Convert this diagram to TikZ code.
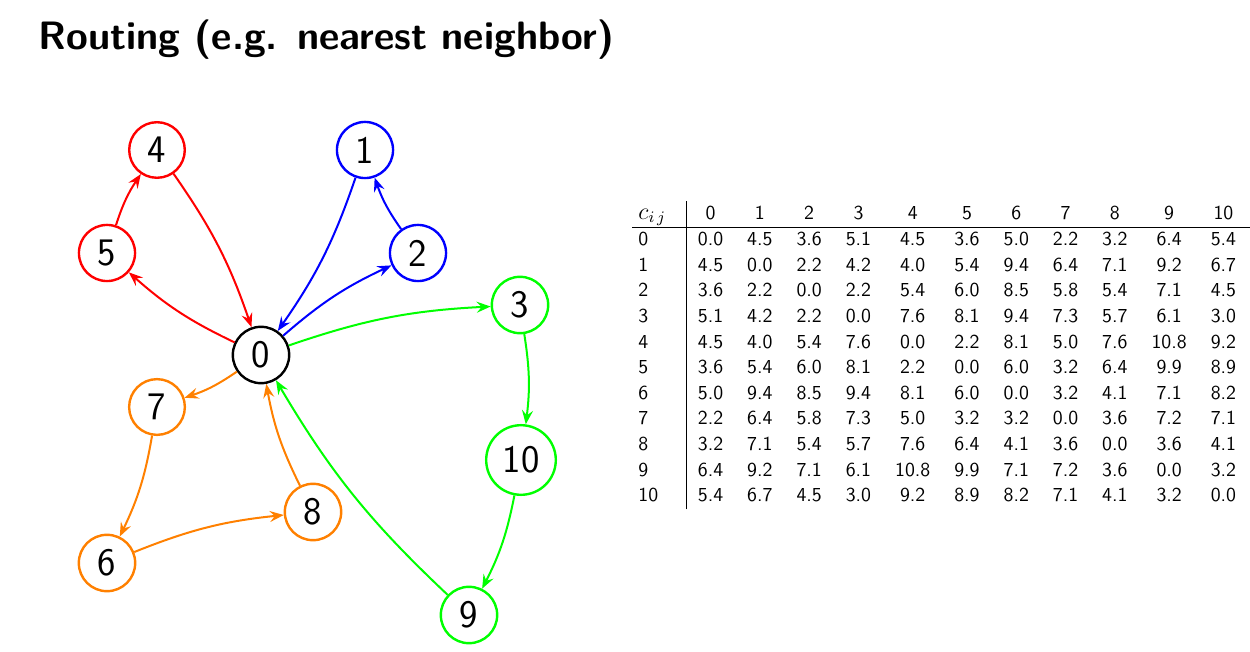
\documentclass[tikz,border=0pt]{standalone}
\usepackage{amsmath}
\usetikzlibrary{arrows.meta}
\renewcommand{\familydefault}{\sfdefault}
\definecolor{tourorange}{RGB}{255,128,0}
\definecolor{tourgreen}{RGB}{0,255,0}

\begin{document}
\begin{tikzpicture}[x=0.5pt,y=-0.5pt,
    city/.style={circle,draw=black,line width=1.2pt,inner sep=4.3pt,font=\fontsize{19.5}{22}\selectfont},
    route/.style={-{Stealth[length=7pt,width=5.5pt,inset=2.5pt]},line width=1pt,bend left=8}]
        \useasboundingbox (0,0) rectangle (1250,652);

        % Title
        \node[anchor=base west,inner sep=0pt,font=\fontsize{19.8}{22}\selectfont\bfseries] (title) at (38,50) {Routing (e.g. nearest neighbor)};

        % Depot
        \node[city] (c0) at (261,355) {0};

        % Cities, coloured by tour
        \node[city,draw=red] (c4) at (157,150) {4};
        \node[city,draw=red] (c5) at (107,253) {5};
        \node[city,draw=blue] (c1) at (365,150) {1};
        \node[city,draw=blue] (c2) at (418,253) {2};
        \node[city,draw=tourgreen] (c3) at (520,305) {3};
        \node[city,draw=tourgreen] (c10) at (521,460) {10};
        \node[city,draw=tourgreen] (c9) at (469,615) {9};
        \node[city,draw=tourorange] (c7) at (157,407) {7};
        \node[city,draw=tourorange] (c6) at (107,563) {6};
        \node[city,draw=tourorange] (c8) at (313,512) {8};

        % Red tour
        \draw[route,red] (c0) to (c5);
        \draw[route,red] (c5) to (c4);
        \draw[route,red] (c4) to (c0);

        % Blue tour
        \draw[route,blue] (c0) to (c2);
        \draw[route,blue] (c2) to (c1);
        \draw[route,blue] (c1) to (c0);

        % Green tour
        \draw[route,tourgreen] (c0) to (c3);
        \draw[route,tourgreen] (c3) to (c10);
        \draw[route,tourgreen] (c10) to (c9);
        \draw[route,tourgreen] (c9) to (c0);

        % Orange tour
        \draw[route,tourorange] (c0) to (c7);
        \draw[route,tourorange] (c7) to (c6);
        \draw[route,tourorange] (c6) to (c8);
        \draw[route,tourorange] (c8) to (c0);

        % Cost matrix
        \node[anchor=north west,inner sep=0pt,font=\fontsize{9.9}{12.8}\selectfont] (costs) at (632,201) {%
            \begin{tabular}{@{\hspace{3pt}}l|ccccccccccc@{\hspace{7pt}}}
                {\fontsize{12}{12}\selectfont$c_{i\,j}$}\hspace{4pt} & 0 & 1 & 2 & 3 & 4 & 5 & 6 & 7 & 8 & 9 & 10\\ \hline
                0  & 0.0 & 4.5 & 3.6 & 5.1 & 4.5  & 3.6 & 5.0 & 2.2 & 3.2 & 6.4  & 5.4\\
                1  & 4.5 & 0.0 & 2.2 & 4.2 & 4.0  & 5.4 & 9.4 & 6.4 & 7.1 & 9.2  & 6.7\\
                2  & 3.6 & 2.2 & 0.0 & 2.2 & 5.4  & 6.0 & 8.5 & 5.8 & 5.4 & 7.1  & 4.5\\
                3  & 5.1 & 4.2 & 2.2 & 0.0 & 7.6  & 8.1 & 9.4 & 7.3 & 5.7 & 6.1  & 3.0\\
                4  & 4.5 & 4.0 & 5.4 & 7.6 & 0.0  & 2.2 & 8.1 & 5.0 & 7.6 & 10.8 & 9.2\\
                5  & 3.6 & 5.4 & 6.0 & 8.1 & 2.2  & 0.0 & 6.0 & 3.2 & 6.4 & 9.9  & 8.9\\
                6  & 5.0 & 9.4 & 8.5 & 9.4 & 8.1  & 6.0 & 0.0 & 3.2 & 4.1 & 7.1  & 8.2\\
                7  & 2.2 & 6.4 & 5.8 & 7.3 & 5.0  & 3.2 & 3.2 & 0.0 & 3.6 & 7.2  & 7.1\\
                8  & 3.2 & 7.1 & 5.4 & 5.7 & 7.6  & 6.4 & 4.1 & 3.6 & 0.0 & 3.6  & 4.1\\
                9  & 6.4 & 9.2 & 7.1 & 6.1 & 10.8 & 9.9 & 7.1 & 7.2 & 3.6 & 0.0  & 3.2\\
                10 & 5.4 & 6.7 & 4.5 & 3.0 & 9.2  & 8.9 & 8.2 & 7.1 & 4.1 & 3.2  & 0.0
            \end{tabular}};
\end{tikzpicture}
\end{document}
